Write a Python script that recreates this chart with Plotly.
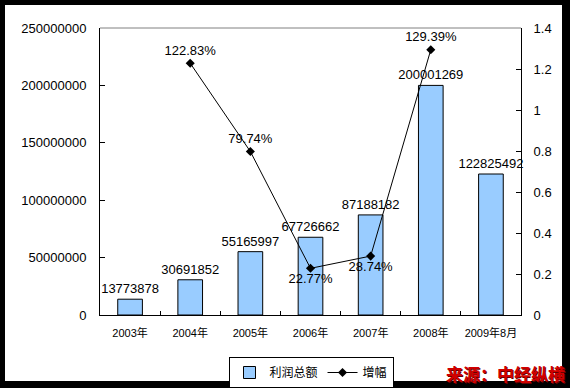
import plotly.graph_objects as go

categories = ["2003年", "2004年", "2005年", "2006年", "2007年", "2008年", "2009年8月"]
profit = [13773878, 30691852, 55165997, 67726662, 87188182, 200001269, 122825492]
growth = [None, 1.2283, 0.7974, 0.2277, 0.2874, 1.2939, None]
growth_labels = ["", "122.83%", "79.74%", "22.77%", "28.74%", "129.39%", ""]
growth_pos = ["top center", "top center", "top center", "bottom center", "bottom center", "top center", "top center"]

FONT = "Liberation Sans, Arial, Noto Sans CJK SC"

fig = go.Figure()
fig.add_trace(go.Bar(
    x=categories, y=profit, name="利润总额",
    marker=dict(color="#99CCFF", line=dict(color="black", width=1)),
    width=0.41,
    text=[str(v) for v in profit], textposition="outside",
    constraintext="none",
    textfont=dict(size=13, color="black", family=FONT),
    cliponaxis=False,
))
fig.add_trace(go.Scatter(
    x=categories, y=growth, name="增幅", yaxis="y2",
    mode="lines+markers+text",
    line=dict(color="black", width=1),
    marker=dict(symbol="diamond", size=7, color="black"),
    text=growth_labels, textposition=growth_pos,
    textfont=dict(size=13, color="black", family=FONT),
    cliponaxis=False,
))

W, H = 570, 388

def px_x(p):
    return (p - 100) / 421

def px_y(p):
    return (315 - p) / 287

fig.update_layout(
    width=W, height=H,
    margin=dict(l=100, r=49, t=28, b=73),
    paper_bgcolor="black",
    plot_bgcolor="white",
    font=dict(family=FONT, color="black", size=13),
    showlegend=True,
    legend=dict(
        orientation="h", xref="container", yref="container",
        x=311 / W, xanchor="center", y=1 - 357 / H, yanchor="top",
        bordercolor="black", borderwidth=1, bgcolor="white",
        font=dict(size=12, family="Noto Sans CJK SC"),
        itemwidth=30, tracegroupgap=0,
    ),
    xaxis=dict(
        type="category", showline=True, linecolor="black", linewidth=1,
        ticks="inside", tickson="boundaries", ticklen=4, tickcolor="black",
        tickfont=dict(size=11, family=FONT), ticklabelstandoff=8,
        tickangle=0, automargin=False,
        showgrid=False, mirror=False,
    ),
    yaxis=dict(
        range=[0, 250000000], dtick=50000000, tickformat="d",
        showline=True, linecolor="black", linewidth=1,
        ticks="inside", ticklen=5, tickcolor="black",
        showgrid=False, zeroline=False, automargin=False,
        tickfont=dict(size=13, family=FONT), ticklabelstandoff=10,
    ),
    yaxis2=dict(
        range=[0, 1.4], dtick=0.2, overlaying="y", side="right",
        showline=True, linecolor="black", linewidth=1,
        ticks="inside", ticklen=5, tickcolor="black",
        showgrid=False, zeroline=False, automargin=False,
        tickfont=dict(size=13, family=FONT), ticklabelstandoff=9,
    ),
    shapes=[
        dict(type="rect", xref="paper", yref="paper",
             x0=px_x(5), x1=px_x(562), y0=px_y(381), y1=px_y(5),
             fillcolor="white", line=dict(width=0), layer="below"),
        dict(type="line", xref="paper", yref="paper",
             x0=0, x1=1, y0=1, y1=1, line=dict(color="#808080", width=1)),
    ],
    annotations=[
        dict(text="<b>来源：中经纵横</b>", xref="paper", yref="paper",
             x=px_x(506), y=px_y(374.5), xanchor="center", yanchor="middle",
             showarrow=False,
             font=dict(size=17, color="#660000", family="Noto Sans CJK SC")),
        dict(text="<b>来源：中经纵横</b>", xref="paper", yref="paper",
             x=px_x(505), y=px_y(373.5), xanchor="center", yanchor="middle",
             showarrow=False,
             font=dict(size=17, color="#D00000", family="Noto Sans CJK SC")),
    ],
)

fig.write_html(
    "out.html",
    config={"displayModeBar": False},
    post_script="document.body.style.margin='0';document.body.style.overflow='hidden';",
)
